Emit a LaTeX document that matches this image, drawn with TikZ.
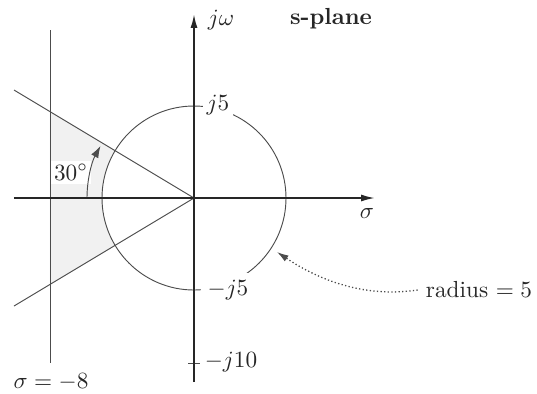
\documentclass[tikz,border=0pt]{standalone}
\usetikzlibrary{arrows.meta}
\begin{document}
\begin{tikzpicture}[x=0.43pt,y=0.43pt,
  thinline/.style={line width=0.4pt, black!70},
  axisline/.style={line width=0.75pt, black!85, -{Latex[length=6pt,width=3pt]}},
  lbl/.style={fill=white, inner sep=1.5pt, text=black!85}]
\useasboundingbox (-194,-195) rectangle (343,198);
\coordinate (O) at (0,0);
\coordinate (UL) at (-180,108);
\coordinate (LL) at (-180,-108);
\coordinate (VT) at (-144,168);
\coordinate (VB) at (-144,-165);
\coordinate (HL) at (-180,0);
\coordinate (HR) at (181,0);
\coordinate (YB) at (0,-184);
\coordinate (YT) at (0,184);
\coordinate (T1) at (-6,-165);
\coordinate (T2) at (6,-165);
\coordinate (A0) at (-107,0);
\coordinate (P) at (83,-54);
% shaded region
\fill[gray!11] (-144,0) -- (-144,86.5) -- (149:92) arc[start angle=149, end angle=211, radius=92] -- (-144,-86.5) -- cycle;
% lines
\draw[thinline] (VT) -- (VB);
\draw[thinline] (O) -- (UL);
\draw[thinline] (O) -- (LL);
\draw[thinline] (O) circle[radius=92];
\draw[thinline] (T1) -- (T2);
% labels with white background
\node[lbl] (j5) at (24,93) {$j5$};
\node[lbl, inner sep=3pt] (mj5) at (34,-92) {$-j5$};
\node[lbl] (mj10) at (37,-164) {$-j10$};
\node[lbl] (ang) at (-123,26) {$30^\circ$};
% 30 degree arc
\draw[thinline, -{Latex[length=5pt,width=3.5pt]}] (A0) arc[start angle=180, end angle=151, radius=107];
% axes
\draw[axisline] (HL) -- (HR);
\draw[axisline] (YB) -- (YT);
% other labels
\node[text=black!85] (jw) at (27,178) {$j\omega$};
\node[text=black!85] (sp) at (137,179) {\textbf{s-plane}};
\node[text=black!85] (sig) at (173,-15) {$\sigma$};
\node[text=black!85] (rad) at (285,-92) {radius $=5$};
\node[text=black!85] (s8) at (-143,-184) {$\sigma=-8$};
% dotted arrow
\draw[line width=0.55pt, black!70, densely dotted, -{Latex[length=5pt,width=3pt]}] (rad.west) .. controls (170,-100) and (125,-82) .. (P);
\end{tikzpicture}
\end{document}
